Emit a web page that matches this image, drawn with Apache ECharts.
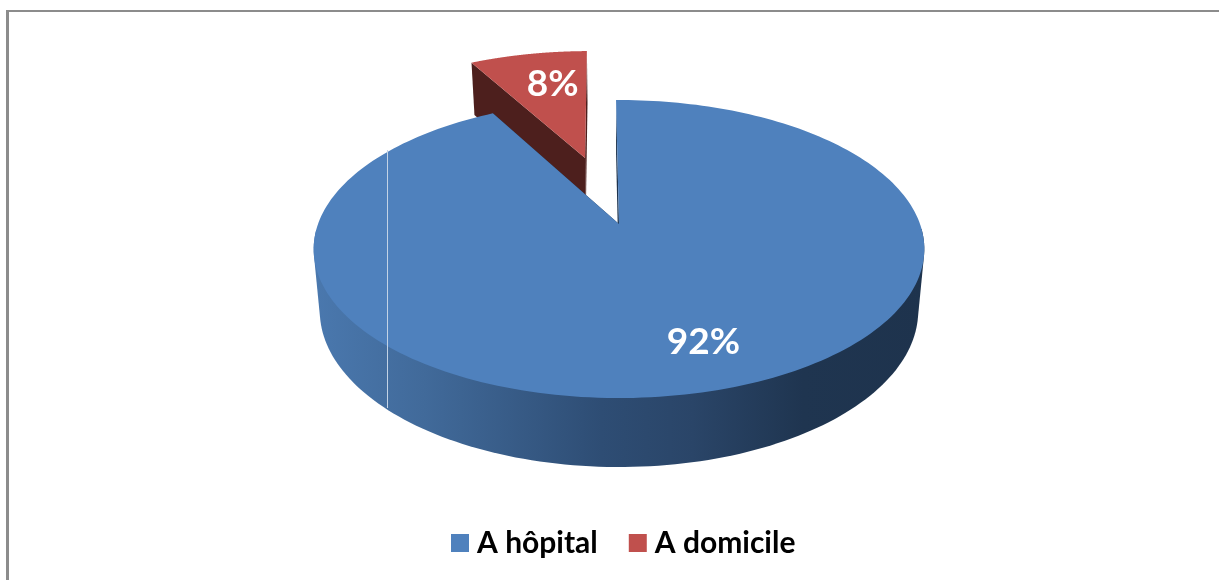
<!DOCTYPE html>
<html>
<head>
<meta charset="utf-8">
<style>
  html, body { margin: 0; padding: 0; background: #fff; }
  #chart { width: 1219px; height: 580px; }
</style>
<script src="https://cdn.jsdelivr.net/npm/echarts@6/dist/echarts.min.js"></script>
</head>
<body>
<div id="chart"></div>
<script>
const categories = ["A hôpital", "A domicile"];
const values = [92.2, 7.8];
const faceColors = ["#4f81bd", "#c0504d"];
const radialColors = ["#1e334d", "#4d1f1d"];

// perspective of the disc, fitted on the picture
const X0 = 619, Y0 = 224, RX = 301, RY = 144.8, TILT = 0.168;
const SHRINK = 0.98, DEPTH = 60.3, FIRST_ANGLE = -0.66;
const EXPLODE_OFFSET = [[0, 0], [-0.122, 0.494]];
const LABEL_SHIFT = [[24, 7], [9, 2]];
const total = values.reduce((a, b) => a + b, 0);

function project(u, v, bottom) {
  const w = 1 + TILT * v;
  const s = bottom ? SHRINK : 1;
  return [X0 + (RX * s * u) / w, Y0 - (RY * s * v) / w + (bottom ? DEPTH / w : 0)];
}

function sliceGeometry(i) {
  const before = values.slice(0, i).reduce((a, b) => a + b, 0);
  const a0 = FIRST_ANGLE + (before / total) * 360;
  const a1 = a0 + (values[i] / total) * 360;
  return {
    a0: (a0 * Math.PI) / 180,
    a1: (a1 * Math.PI) / 180,
    mid: (((a0 + a1) / 2) * Math.PI) / 180,
    ou: EXPLODE_OFFSET[i][0],
    ov: EXPLODE_OFFSET[i][1],
  };
}

// front wall outline: convex hull of the near part of both rims
function convexHull(points) {
  const pts = points.slice().sort((a, b) => a[0] - b[0] || a[1] - b[1]);
  const cross = (o, a, b) => (a[0] - o[0]) * (b[1] - o[1]) - (a[1] - o[1]) * (b[0] - o[0]);
  const half = (list) => {
    const out = [];
    list.forEach((p) => {
      while (out.length >= 2 && cross(out[out.length - 2], out[out.length - 1], p) <= 0) out.pop();
      out.push(p);
    });
    out.pop();
    return out;
  };
  return half(pts).concat(half(pts.slice().reverse()));
}

function renderSlice(i) {
  return function () {
    const g = sliceGeometry(i);
    const angles = [];
    const n = 240;
    for (let k = 0; k <= n; k++) angles.push(g.a0 + ((g.a1 - g.a0) * k) / n);
    const rim = (list, bottom) =>
      list.map((a) => project(g.ou + Math.sin(a), g.ov + Math.cos(a), bottom));
    const topRim = rim(angles, false);
    const bottomRim = rim(angles, true);
    const apexTop = project(g.ou, g.ov, false);
    const apexBottom = project(g.ou, g.ov, true);
    const labelAt = project(g.ou + 0.7 * Math.sin(g.mid), g.ov + 0.7 * Math.cos(g.mid), false);
    const polygon = (points, fill) => ({
      type: "polygon",
      shape: { points: points },
      style: { fill: fill },
    });
    const children = [];
    if (i === 0) {
      const near = angles.filter((a) => Math.cos(a) < -0.02);
      const wallFill = new echarts.graphic.LinearGradient(
        314, 0, 925, 0,
        [
          { offset: 0, color: "#4a78ae" },
          { offset: 0.18, color: "#416a9a" },
          { offset: 0.47, color: "#2e4d74" },
          { offset: 0.62, color: "#2a4568" },
          { offset: 0.8, color: "#1f3550" },
          { offset: 1, color: "#1e334d" },
        ],
        true
      );
      children.push(polygon(convexHull(rim(near, false).concat(rim(near, true))), wallFill));
    }
    children.push(
      polygon([apexTop, topRim[0], bottomRim[0], apexBottom], radialColors[i]),
      polygon([apexTop, topRim[n], bottomRim[n], apexBottom], radialColors[i]),
      polygon([apexTop].concat(topRim), faceColors[i]),
      {
        type: "text",
        style: {
          x: labelAt[0] + LABEL_SHIFT[i][0],
          y: labelAt[1] + LABEL_SHIFT[i][1],
          text: Math.round((values[i] / total) * 100) + "%",
          fill: "#fff",
          font: "bold 37px Lato, sans-serif",
          align: "center",
          verticalAlign: "middle",
        },
      }
    );
    return { type: "group", children: children };
  };
}

const myChart = echarts.init(document.getElementById("chart"));
const option = {
  animation: false,
  backgroundColor: "#fff",
  legend: {
    data: categories,
    left: 446,
    top: 523,
    itemWidth: 18,
    itemHeight: 18,
    itemGap: 31,
    icon: "rect",
    selectedMode: false,
    textStyle: {
      color: "#000",
      fontFamily: "Lato, sans-serif",
      fontWeight: "bold",
      fontSize: 30,
      padding: [0, 0, 0, 3],
    },
  },
  graphic: [
    { type: "rect", shape: { x: 6, y: 10, width: 1213, height: 2 }, style: { fill: "#8c8c8c" } },
    { type: "rect", shape: { x: 6, y: 10, width: 3, height: 570 }, style: { fill: "#8c8c8c" } },
    { type: "rect", z: 10, shape: { x: 387, y: 150, width: 1, height: 258 }, style: { fill: "#c3d3e6" } },
  ],
  // red first, the blue slice hides the lower part of its wall
  series: [1, 0].map((i) => ({
    type: "custom",
    name: categories[i],
    coordinateSystem: "none",
    silent: true,
    itemStyle: { color: faceColors[i] },
    data: [values[i]],
    renderItem: renderSlice(i),
  })),
};
myChart.setOption(option);
window.addEventListener("resize", function () {
  myChart.resize();
});
</script>
</body>
</html>
